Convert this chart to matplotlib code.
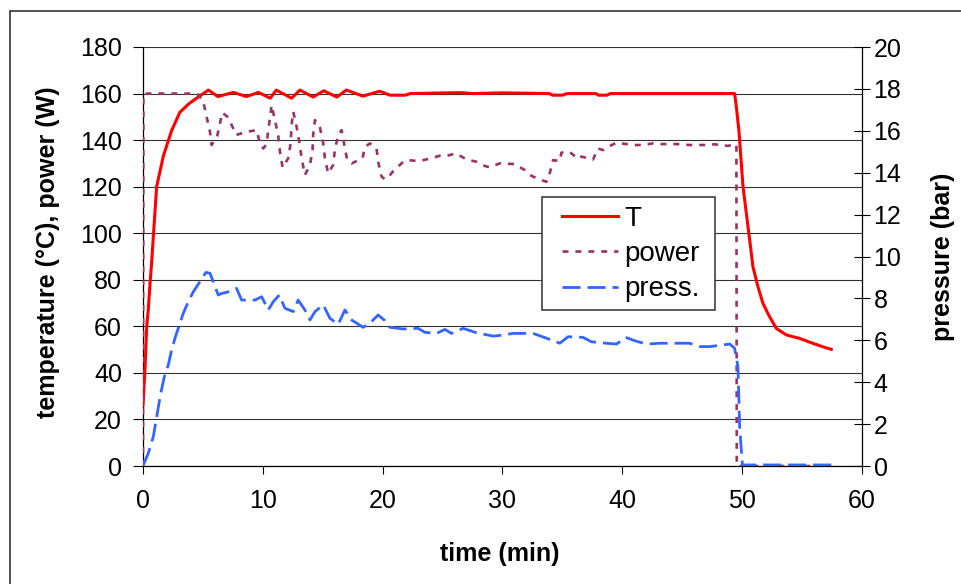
import matplotlib
matplotlib.use("Agg")
import matplotlib.pyplot as plt
from matplotlib.patches import Rectangle

plt.rcParams['font.family'] = ['Liberation Sans', 'DejaVu Sans']
plt.rcParams['font.size'] = 18
plt.rcParams['lines.scale_dashes'] = False

# ---- data ----
T_time = [0.0, 0.17, 0.31, 0.44, 0.58, 0.73, 0.88, 1.14, 1.69, 2.38, 3.08, 3.8, 4.47, 5.46,
          6.25, 7.54, 8.63, 9.63, 10.62, 11.12, 12.4, 13.1, 14.2, 15.09, 16.18, 16.97,
          18.36, 19.75, 20.6, 21.9, 22.3, 26.5, 27.5, 30.0, 33.9, 34.2, 35.0, 35.4,
          37.8, 38.0, 38.7, 39.0, 42.0, 49.37, 49.52, 49.73, 49.93, 50.07, 50.35, 50.63,
          50.9, 51.32, 51.73, 52.29, 52.85, 53.69, 54.8, 55.9, 56.74, 57.44]
T_val = [26, 42, 60, 67, 78, 88, 100, 120, 133, 144, 152, 155.5, 158, 161.5,
         158.7, 160.5, 158.7, 160.5, 158, 161.5, 158, 161.5, 158.5, 161.2, 158.5, 161.5,
         158.9, 161, 159.3, 159.3, 160, 160.4, 160, 160.3, 160, 159.3, 159.3, 160,
         160, 159.3, 159.3, 160, 160, 160, 154, 144, 130, 120, 108.5, 97,
         85.6, 77, 69.9, 64.1, 59.1, 56.3, 54.8, 52.7, 51.2, 50.1]

power_time = [0.0, 0.03, 4.5, 5.0, 5.31, 5.59, 5.73, 6.2, 6.48, 6.61, 7.11, 7.53, 7.76,
              8.7, 9.48, 9.76, 10.03, 10.32, 10.45, 10.65, 10.73, 11.01, 11.28, 11.43,
              11.65, 12.12, 12.32, 12.4, 12.54, 12.82, 13.04, 13.24, 13.51, 13.93, 14.15,
              14.2, 14.35, 14.76, 15.04, 15.18, 15.45, 15.87, 16.01, 16.29, 16.57, 17.04,
              17.41, 18.32, 18.52, 18.93, 19.49, 19.62, 19.91, 20.18, 20.46, 20.83, 21.29,
              21.71, 22.13, 22.96, 23.38, 24.08, 24.77, 25.33, 26.11, 27.0, 27.83, 28.52,
              28.94, 29.77, 31.03, 31.86, 32.28, 32.97, 33.67, 33.94, 34.22, 34.78, 34.92,
              35.61, 36.31, 36.59, 37.56, 37.97, 38.39, 38.81, 39.51, 40.89, 41.73, 42.56,
              43.26, 44.51, 45.62, 47.01, 47.71, 48.82, 49.37, 49.52, 49.55, 57.44]
power_val = [0, 160, 160, 157.2, 150, 143.6, 137.9, 141.9, 148.6, 151.8, 149.8, 145, 142.2,
             143.6, 144.3, 138.6, 136.4, 138.3, 144.3, 151.5, 155, 148.6, 142.2, 135,
             128.2, 132.2, 138.6, 146.5, 152.2, 145.7, 139.3, 132.2, 125, 129.3, 135.7,
             142.2, 148.6, 145.5, 138.6, 132.2, 125.7, 129.3, 135.7, 142.2, 144.3, 131.4,
             130, 132.2, 137, 138.6, 136.4, 130.7, 124.3, 123.2, 123.9, 126.4, 128.6,
             130.7, 131.4, 131, 131.4, 132.2, 133.3, 133.2, 134.3, 131.7, 130.7, 128.9,
             128.3, 130, 129.7, 127.1, 125, 123.3, 122.1, 125.7, 131.4, 131, 134.6,
             134.9, 131.9, 132.9, 131.7, 136.4, 135.7, 137.1, 138.9, 137.9, 137.9, 138.6,
             138.3, 138.3, 137.9, 137.9, 138.2, 137.5, 138.3, 138, 0, 0]

press_time = [0.03, 0.44, 0.86, 1.14, 1.48, 1.78, 2.11, 2.39, 2.67, 3.03, 3.36, 3.78, 4.2,
              4.75, 5.25, 5.59, 5.86, 6.28, 6.56, 6.98, 7.81, 8.23, 9.34, 9.9, 10.45, 10.87,
              11.37, 11.84, 12.54, 12.95, 13.51, 13.93, 14.35, 15.04, 15.6, 16.29, 16.85,
              17.41, 18.37, 18.93, 19.62, 20.18, 20.6, 21.71, 22.96, 23.52, 24.5, 25.19,
              25.75, 26.71, 27.83, 29.22, 30.05, 30.88, 32.55, 33.67, 34.78, 35.47, 36.72,
              37.42, 38.67, 39.51, 40.28, 41.03, 42.01, 43.12, 44.51, 45.62, 46.46, 47.29,
              48.4, 48.96, 49.37, 49.65, 49.73, 49.79, 49.93, 50.02, 57.44]
press_val = [0.05, 0.61, 1.4, 2.35, 3.47, 4.26, 4.82, 5.54, 6.1, 6.73, 7.29, 7.84, 8.32,
             8.8, 9.24, 9.2, 8.8, 8.16, 8.24, 8.29, 8.48, 7.92, 7.92, 8.08, 7.45, 7.84,
             8.16, 7.53, 7.37, 7.92, 7.45, 6.97, 7.37, 7.69, 7.05, 6.76, 7.45,
             6.97, 6.62, 6.81, 7.21, 6.94, 6.62, 6.54, 6.57, 6.38, 6.33, 6.52,
             6.33, 6.57, 6.36, 6.2, 6.25, 6.33, 6.33, 6.1, 5.86, 6.17, 6.14,
             5.93, 5.86, 5.82, 6.14, 5.98, 5.82, 5.86, 5.86, 5.86, 5.7, 5.7,
             5.78, 5.82, 5.62, 4.74, 3.15, 1.88, 0.76, 0.05, 0.05]

x_ticks = [0, 10, 20, 30, 40, 50, 60]
left_ticks = [0, 20, 40, 60, 80, 100, 120, 140, 160, 180]
right_ticks = [0, 2, 4, 6, 8, 10, 12, 14, 16, 18, 20]
labels = ["T", "power", "press."]

# ---- figure ----
W, H = 962, 584
fig = plt.figure(figsize=(W / 100, H / 100), dpi=100)
fig.patch.set_facecolor('white')

L, R, Tp, B = 143, 862, 47, 466
ax = fig.add_axes([L / W, 1 - B / H, (R - L) / W, (B - Tp) / H])
ax2 = ax.twinx()

# frame around the chart (left and top edges visible)
fig.add_artist(Rectangle((10 / W, -0.2), 2.0, 1 - 11 / H + 0.2, transform=fig.transFigure,
                         fill=False, edgecolor='#222222', linewidth=1.1, clip_on=False))

lT, = ax.plot(T_time, T_val, color='#FF0000', linewidth=2.2, zorder=3)
lP, = ax.plot(power_time, power_val, color='#993366', linewidth=1.9,
              linestyle=(0, (4.3, 5.0)), zorder=4)
lS, = ax2.plot(press_time, press_val, color='#3366FF', linewidth=2.0,
               linestyle=(0, (13, 5)), zorder=4)

ax.set_xlim(0, 60)
ax.set_ylim(0, 180)
ax2.set_ylim(0, 20)
ax.set_xticks(x_ticks)
ax.set_yticks(left_ticks)
ax2.set_yticks(right_ticks)

ax.grid(axis='y', color='#333333', linewidth=0.8)
ax.set_axisbelow(True)

for a in (ax, ax2):
    a.spines['top'].set_visible(False)
    for s in ('left', 'bottom', 'right'):
        a.spines[s].set_color('black')
        a.spines[s].set_linewidth(0.9)
ax.spines['right'].set_visible(False)
ax2.spines['left'].set_visible(False)
ax2.spines['bottom'].set_visible(False)

ax.tick_params(axis='y', direction='out', length=7.2, width=0.8, pad=8)
ax.tick_params(axis='x', direction='out', length=5.8, width=0.8, pad=11)
ax2.tick_params(axis='y', direction='inout', length=12.2, width=0.8, pad=2.2)

ax.set_xlabel('time (min)', fontweight='bold')
ax.set_ylabel('temperature (°C), power (W)', fontweight='bold')
ax2.set_ylabel('pressure (bar)', fontweight='bold', rotation=90)
ax.xaxis.set_label_coords(0.4965, -0.181)
ax.yaxis.set_label_coords((60 - L) / (R - L), 0.51)
ax2.yaxis.set_label_coords((931 - L) / (R - L), 0.50)

# legend box (drawn explicitly) and legend entries
fig.add_artist(Rectangle((541.7 / W, 1 - 310 / H), (715 - 541.7) / W, (310 - 196.7) / H,
                         transform=fig.transFigure, facecolor='white',
                         edgecolor='#404040', linewidth=1.2, zorder=5))
leg = fig.legend([lT, lP, lS], labels, loc='upper left',
                 bbox_to_anchor=(562 / W, 1 - 206 / H), bbox_transform=fig.transFigure,
                 borderaxespad=0, borderpad=0, frameon=False,
                 handlelength=2.0, handletextpad=0.25, labelspacing=0.33,
                 fontsize=20)
leg.set_zorder(6)

fig.savefig('out.png', dpi=100, facecolor='white')
